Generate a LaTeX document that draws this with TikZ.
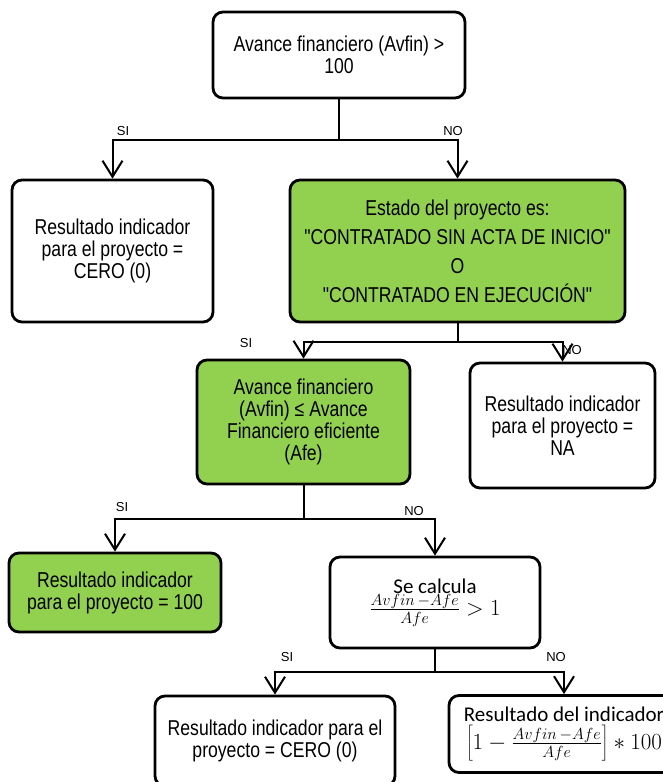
\RequirePackage{fix-cm}
\documentclass[tikz,border=0pt]{standalone}
\usepackage{fontspec}
\usetikzlibrary{arrows.meta}
\newfontfamily\narrowfont{Liberation Sans}[FakeStretch=0.82]
\newfontfamily\calib{Carlito}
\newfontfamily\labfont{Liberation Sans}
\definecolor{boxgreen}{HTML}{92D050}
\newcommand{\bigmath}[1]{{\fontsize{23}{26}\selectfont$#1$}}
\begin{document}
\begin{tikzpicture}[x=1pt,y=-1pt,
  box/.style={draw=black, line width=2.8pt, rounded corners=10pt, align=center,
    inner sep=2pt, font=\narrowfont\fontsize{21.5}{22}\selectfont},
  gbox/.style={box, fill=boxgreen},
  conn/.style={draw=black, line width=2pt},
  arr/.style={conn, -{Straight Barb[length=16pt,width=20pt,line width=2pt]}},
  lab/.style={font=\labfont\fontsize{13}{15}\selectfont, inner sep=0pt}]
\useasboundingbox (0,0) rectangle (662,782);
\fill[white] (0,0) rectangle (662,782);

\node[box, minimum width=252pt, minimum height=86pt] (top) at (339,55)
  {Avance financiero (Avfin) >\\100};
\node[box, minimum width=201pt, minimum height=142pt] (cero) at (112.5,251)
  {Resultado indicador\\para el proyecto =\\CERO (0)};
\node[gbox, minimum width=335pt, minimum height=142pt,
  font=\narrowfont\fontsize{21.5}{29}\selectfont] (estado) at (457.5,251)
  {Estado del proyecto es:\\"CONTRATADO SIN ACTA DE INICIO"\\O\\"CONTRATADO EN EJECUCIÓN"};
\node[gbox, minimum width=213pt, minimum height=124pt] (avfin) at (303.5,422)
  {Avance financiero\\(Avfin) ≤ Avance\\Financiero eficiente\\(Afe)};
\node[box, minimum width=185pt, minimum height=125pt] (na) at (562.5,425.5)
  {Resultado indicador\\para el proyecto =\\NA};
\node[gbox, minimum width=212pt, minimum height=79pt] (cien) at (115,592.5)
  {Resultado indicador\\para el proyecto = 100};
\node[box, minimum width=210pt, minimum height=91pt,
  font=\calib\fontsize{21}{24}\selectfont] (calc) at (435,602.5)
  {Se calcula\\[-2pt]\bigmath{\frac{Avfin\,-Afe}{Afe}>1}};
\node[box, minimum width=230pt, minimum height=77pt,
  font=\calib\fontsize{21}{24}\selectfont] (br) at (564,734)
  {Resultado del indicador\\[4pt]\bigmath{\left[1-\frac{Avfin\,-Afe}{Afe}\right]\ast 100}};
\node[box, minimum width=240pt, minimum height=90pt] (bl) at (275,741)
  {Resultado indicador para el\\proyecto = CERO (0)};

\coordinate (j1) at (339,140);
\coordinate (j2) at (457.5,342);
\coordinate (j3) at (303.5,519);
\coordinate (j4) at (435,672);

\draw[conn] (top.south) -- (j1);
\draw[arr] (j1) -| (cero.north);
\draw[arr] (j1) -| (estado.north);
\draw[conn] (estado.south) -- (j2);
\draw[arr] (j2) -| (avfin.north);
\draw[arr] (j2) -| (na.north);
\draw[conn] (avfin.south) -- (j3);
\draw[arr] (j3) -| (cien.north);
\draw[arr] (j3) -| (calc.north);
\draw[conn] (calc.south) -- (j4);
\draw[arr] (j4) -| (bl.north);
\draw[arr] (j4) -| (br.north);

\node[lab] (si1) at (123,131) {SI};
\node[lab] (no1) at (453,131) {NO};
\node[lab] (si2) at (246,343) {SI};
\node[lab] (no2) at (572,350) {NO};
\node[lab] (si3) at (122,507) {SI};
\node[lab] (no3) at (414,511) {NO};
\node[lab] (si4) at (287,657) {SI};
\node[lab] (no4) at (556,657) {NO};
\end{tikzpicture}
\end{document}
